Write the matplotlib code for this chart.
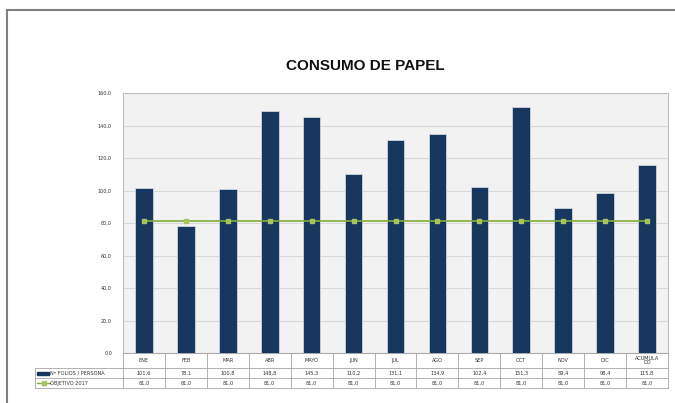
import matplotlib.pyplot as plt
from matplotlib.lines import Line2D
from matplotlib.patches import Rectangle

meses = ["ENE", "FEB", "MAR", "ABR", "MAYO", "JUN", "JUL", "AGO", "SEP", "OCT", "NOV", "DIC", "ACUMULA\nDO"]
folios = [101.6, 78.1, 100.8, 148.8, 145.3, 110.2, 131.1, 134.9, 102.4, 151.3, 89.4, 98.4, 115.8]
objetivo = [81.0] * 13
etiquetas = ["Nº FOLIOS / PERSONA", "OBJETIVO 2017"]

azul = "#17375E"
verde = "#80AC3C"

W, H = 675, 403
fig = plt.figure(figsize=(6.75, 4.03), dpi=100)

# area de trazado en pixeles
x0, x1, y_top, y_bot = 123, 668, 93, 353
ax = fig.add_axes([x0 / W, 1 - y_bot / H, (x1 - x0) / W, (y_bot - y_top) / H])
ax.set_facecolor("#F2F2F2")

x = list(range(len(meses)))
ax.bar(x, folios, width=0.42, color=azul, edgecolor="#DDE3EA", linewidth=0.5, zorder=3)
ax.plot(x, objetivo, color=verde, linewidth=1.2, marker="s", markersize=3,
        markerfacecolor="#A5C45E", markeredgecolor="#A5C45E", zorder=4)

ax.set_xlim(-0.5, len(meses) - 0.5)
ax.set_ylim(0, 160)
ax.set_yticks(range(0, 161, 20))
ax.set_yticklabels([f"{v:.1f}".replace(".", ",") for v in range(0, 161, 20)], fontsize=3.5, color="#333333")
ax.set_xticks([])
ax.tick_params(axis="y", length=0, pad=8)
ax.grid(axis="y", color="#D9D9D9", linewidth=0.8, zorder=0)
for s in ax.spines.values():
    s.set_color("#BFBFBF")
    s.set_linewidth(0.8)

# tabla de datos
def fy(py):
    return 1 - py / H

def fx(px):
    return px / W

filas = [353, 368, 378, 388]
lab_x0 = 35
colw = (x1 - x0) / len(meses)
lc = "#A6A6A6"
lw = 0.6

# lineas horizontales
fig.add_artist(Line2D([fx(x0), fx(x1)], [fy(filas[0])] * 2, color=lc, lw=lw))
for py in filas[1:]:
    fig.add_artist(Line2D([fx(lab_x0), fx(x1)], [fy(py)] * 2, color=lc, lw=lw))
# lineas verticales
fig.add_artist(Line2D([fx(lab_x0)] * 2, [fy(filas[1]), fy(filas[3])], color=lc, lw=lw))
for i in range(len(meses) + 1):
    px = x0 + i * colw
    fig.add_artist(Line2D([fx(px)] * 2, [fy(filas[0]), fy(filas[3])], color=lc, lw=lw))

fs = 3.6
for i, m in enumerate(meses):
    cx = fx(x0 + (i + 0.5) * colw)
    fig.text(cx, fy((filas[0] + filas[1]) / 2), m, ha="center", va="center", fontsize=fs,
             color="#333333", linespacing=0.95)
    fig.text(cx, fy((filas[1] + filas[2]) / 2), f"{folios[i]:.1f}".replace(".", ","),
             ha="center", va="center", fontsize=fs, color="#333333")
    fig.text(cx, fy((filas[2] + filas[3]) / 2), f"{objetivo[i]:.1f}".replace(".", ","),
             ha="center", va="center", fontsize=fs, color="#333333")

# claves de leyenda
fig.add_artist(Rectangle((fx(37), fy(374.5)), fx(12), 3 / H, color=azul))
fig.text(fx(50), fy((filas[1] + filas[2]) / 2), etiquetas[0], ha="left", va="center", fontsize=fs, color="#333333")
fig.add_artist(Line2D([fx(37), fx(50)], [fy(383)] * 2, color=verde, lw=1.0))
fig.add_artist(Line2D([fx(43.5)], [fy(383)], marker="s", markersize=2.5, color="#A5C45E"))
fig.text(fx(50), fy((filas[2] + filas[3]) / 2), etiquetas[1], ha="left", va="center", fontsize=fs, color="#333333")

# titulo
fig.text(fx(365), fy(66), "CONSUMO DE PAPEL", ha="center", va="center", fontsize=11,
         fontweight="bold", family="Liberation Sans", color="#111111")

# borde exterior
fig.add_artist(Line2D([fx(6.5), fx(6.5)], [0, fy(9.5)], color="#7F7F7F", lw=1.5))
fig.add_artist(Line2D([fx(6.5), 1], [fy(9.5), fy(9.5)], color="#7F7F7F", lw=1.5))

fig.savefig("out.png", dpi=100)
